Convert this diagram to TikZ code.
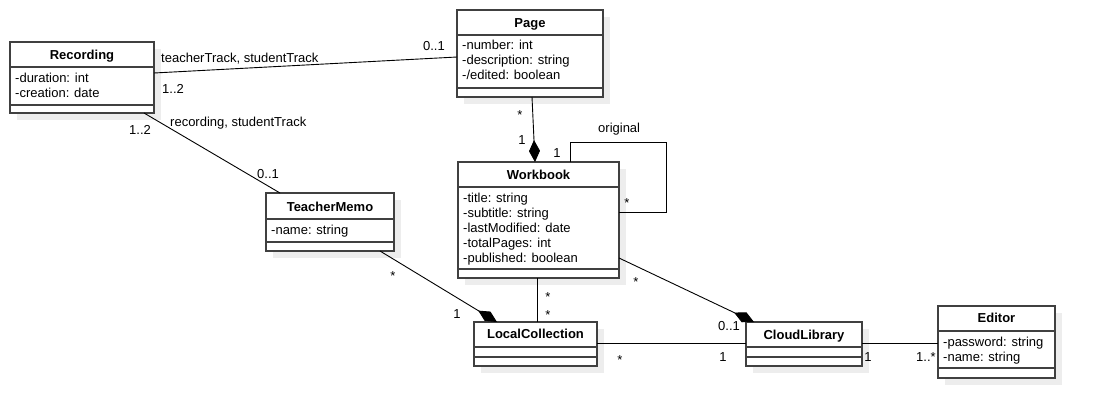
\documentclass[tikz,border=0pt]{standalone}
\usepackage{fontspec}
\setmainfont{Liberation Sans}
\usetikzlibrary{arrows.meta,shadows}
\tikzset{
  cls/.style={draw=black!75, line width=1.3pt, fill=white, inner sep=0pt, outer sep=0pt, anchor=north west,
    drop shadow={shadow xshift=7pt, shadow yshift=-7pt, fill=black!7, opacity=1}},
  sepline/.style={draw=black!75, line width=1.3pt},
  ctitle/.style={font=\fontsize{13}{15}\selectfont\bfseries, inner sep=0pt, anchor=base},
  attr/.style={inner sep=0pt, anchor=base west},
  lbl/.style={inner sep=0pt, anchor=base},
  lblw/.style={inner sep=0pt, anchor=base west},
  lble/.style={inner sep=0pt, anchor=base east},
  conn/.style={draw=black, line width=0.9pt},
  comp/.style={conn, -{Diamond[length=22pt,width=11pt]}},
}
\begin{document}
\begin{tikzpicture}[x=1pt, y=-1pt, font=\fontsize{13}{15}\selectfont]
\useasboundingbox (0,0) rectangle (1094,418);

% Recording
\node[cls, minimum width=144pt, minimum height=71pt] (rec) at (10,42) {};
\draw[sepline] (rec.west |- 0,67) -- (rec.east |- 0,67);
\draw[sepline] (rec.west |- 0,105) -- (rec.east |- 0,105);
\node[ctitle] (recT) at (82,59.5) {Recording};
\node[attr] (recA1) at (15,82.5) {-duration: int};
\node[attr] (recA2) at (15,97.5) {-creation: date};

% Page
\node[cls, minimum width=146pt, minimum height=87pt] (page) at (457,10) {};
\draw[sepline] (page.west |- 0,35) -- (page.east |- 0,35);
\draw[sepline] (page.west |- 0,88) -- (page.east |- 0,88);
\node[ctitle] (pageT) at (530,27.5) {Page};
\node[attr] (pageA1) at (462,49.5) {-number: int};
\node[attr] (pageA2) at (462,64.5) {-description: string};
\node[attr] (pageA3) at (462,79.5) {-/edited: boolean};

% Workbook
\node[cls, minimum width=161pt, minimum height=116pt] (wb) at (458,162) {};
\draw[sepline] (wb.west |- 0,187) -- (wb.east |- 0,187);
\draw[sepline] (wb.west |- 0,269) -- (wb.east |- 0,269);
\node[ctitle] (wbT) at (538.5,179.5) {Workbook};
\node[attr] (wbA1) at (463,202.5) {-title: string};
\node[attr] (wbA2) at (463,217.5) {-subtitle: string};
\node[attr] (wbA3) at (463,232.5) {-lastModified: date};
\node[attr] (wbA4) at (463,247.5) {-totalPages: int};
\node[attr] (wbA5) at (463,262.5) {-published: boolean};

% TeacherMemo
\node[cls, minimum width=128pt, minimum height=58pt] (memo) at (266,193) {};
\draw[sepline] (memo.west |- 0,219) -- (memo.east |- 0,219);
\draw[sepline] (memo.west |- 0,242) -- (memo.east |- 0,242);
\node[ctitle] (memoT) at (330,211.5) {TeacherMemo};
\node[attr] (memoA1) at (271,234.5) {-name: string};

% LocalCollection
\node[cls, minimum width=123pt, minimum height=44pt] (lc) at (474,322) {};
\draw[sepline] (lc.west |- 0,347) -- (lc.east |- 0,347);
\draw[sepline] (lc.west |- 0,357) -- (lc.east |- 0,357);
\node[ctitle] (lcT) at (535.5,338.5) {LocalCollection};

% CloudLibrary
\node[cls, minimum width=116pt, minimum height=44pt] (cl) at (746,322) {};
\draw[sepline] (cl.west |- 0,347) -- (cl.east |- 0,347);
\draw[sepline] (cl.west |- 0,357) -- (cl.east |- 0,357);
\node[ctitle] (clT) at (804,339.5) {CloudLibrary};

% Editor
\node[cls, minimum width=117pt, minimum height=72pt] (ed) at (938,306) {};
\draw[sepline] (ed.west |- 0,331) -- (ed.east |- 0,331);
\draw[sepline] (ed.west |- 0,368) -- (ed.east |- 0,368);
\node[ctitle] (edT) at (996.5,322.5) {Editor};
\node[attr] (edA1) at (943,346.5) {-password: string};
\node[attr] (edA2) at (943,361.5) {-name: string};

% Connectors
\draw[conn] (rec.east |- 0,73) -- (page.west |- 0,57);
\draw[conn] (rec.south -| 144,0) -- (memo.north -| 280,0);
\draw[comp] (page.south -| 532,0) -- (wb.north -| 535,0);
\draw[conn] (wb.north -| 570,0) |- (666,142) |- (wb.east |- 0,212);
\draw[comp] (memo.south -| 380,0) -- (lc.north -| 497,0);
\draw[conn] (wb.south -| 537,0) -- (lc.north -| 537,0);
\draw[comp] (wb.east |- 0,258) -- (cl.north -| 754,0);
\draw[conn] (lc.east |- 0,343) -- (cl.west |- 0,343);
\draw[conn] (cl.east |- 0,343) -- (ed.west |- 0,343);

% Labels
\node[lblw] (l1) at (161,62) {teacherTrack, studentTrack};
\node[lblw] (l2) at (162,93.5) {1..2};
\node[lble] (l3) at (445,50.5) {0..1};
\node[lblw] (l4) at (129,134.5) {1..2};
\node[lblw] (l5) at (170,126) {recording, studentTrack};
\node[lblw] (l6) at (257,178.5) {0..1};
\node[lbl] (l7) at (520,119) {*};
\node[lbl] (l8) at (522,144.5) {1};
\node[lbl] (l9) at (557,157.5) {1};
\node[lblw] (l10) at (598,132.5) {original};
\node[lbl] (l11) at (627,207) {*};
\node[lbl] (l12) at (393,280) {*};
\node[lbl] (l13) at (457,318.5) {1};
\node[lbl] (l14) at (548,301) {*};
\node[lbl] (l15) at (548,319) {*};
\node[lbl] (l16) at (636,286) {*};
\node[lblw] (l17) at (718,330.5) {0..1};
\node[lbl] (l18) at (620,364) {*};
\node[lbl] (l19) at (723,361.5) {1};
\node[lbl] (l20) at (868,361.5) {1};
\node[lblw] (l21) at (916,361.5) {1..*};
\end{tikzpicture}
\end{document}
